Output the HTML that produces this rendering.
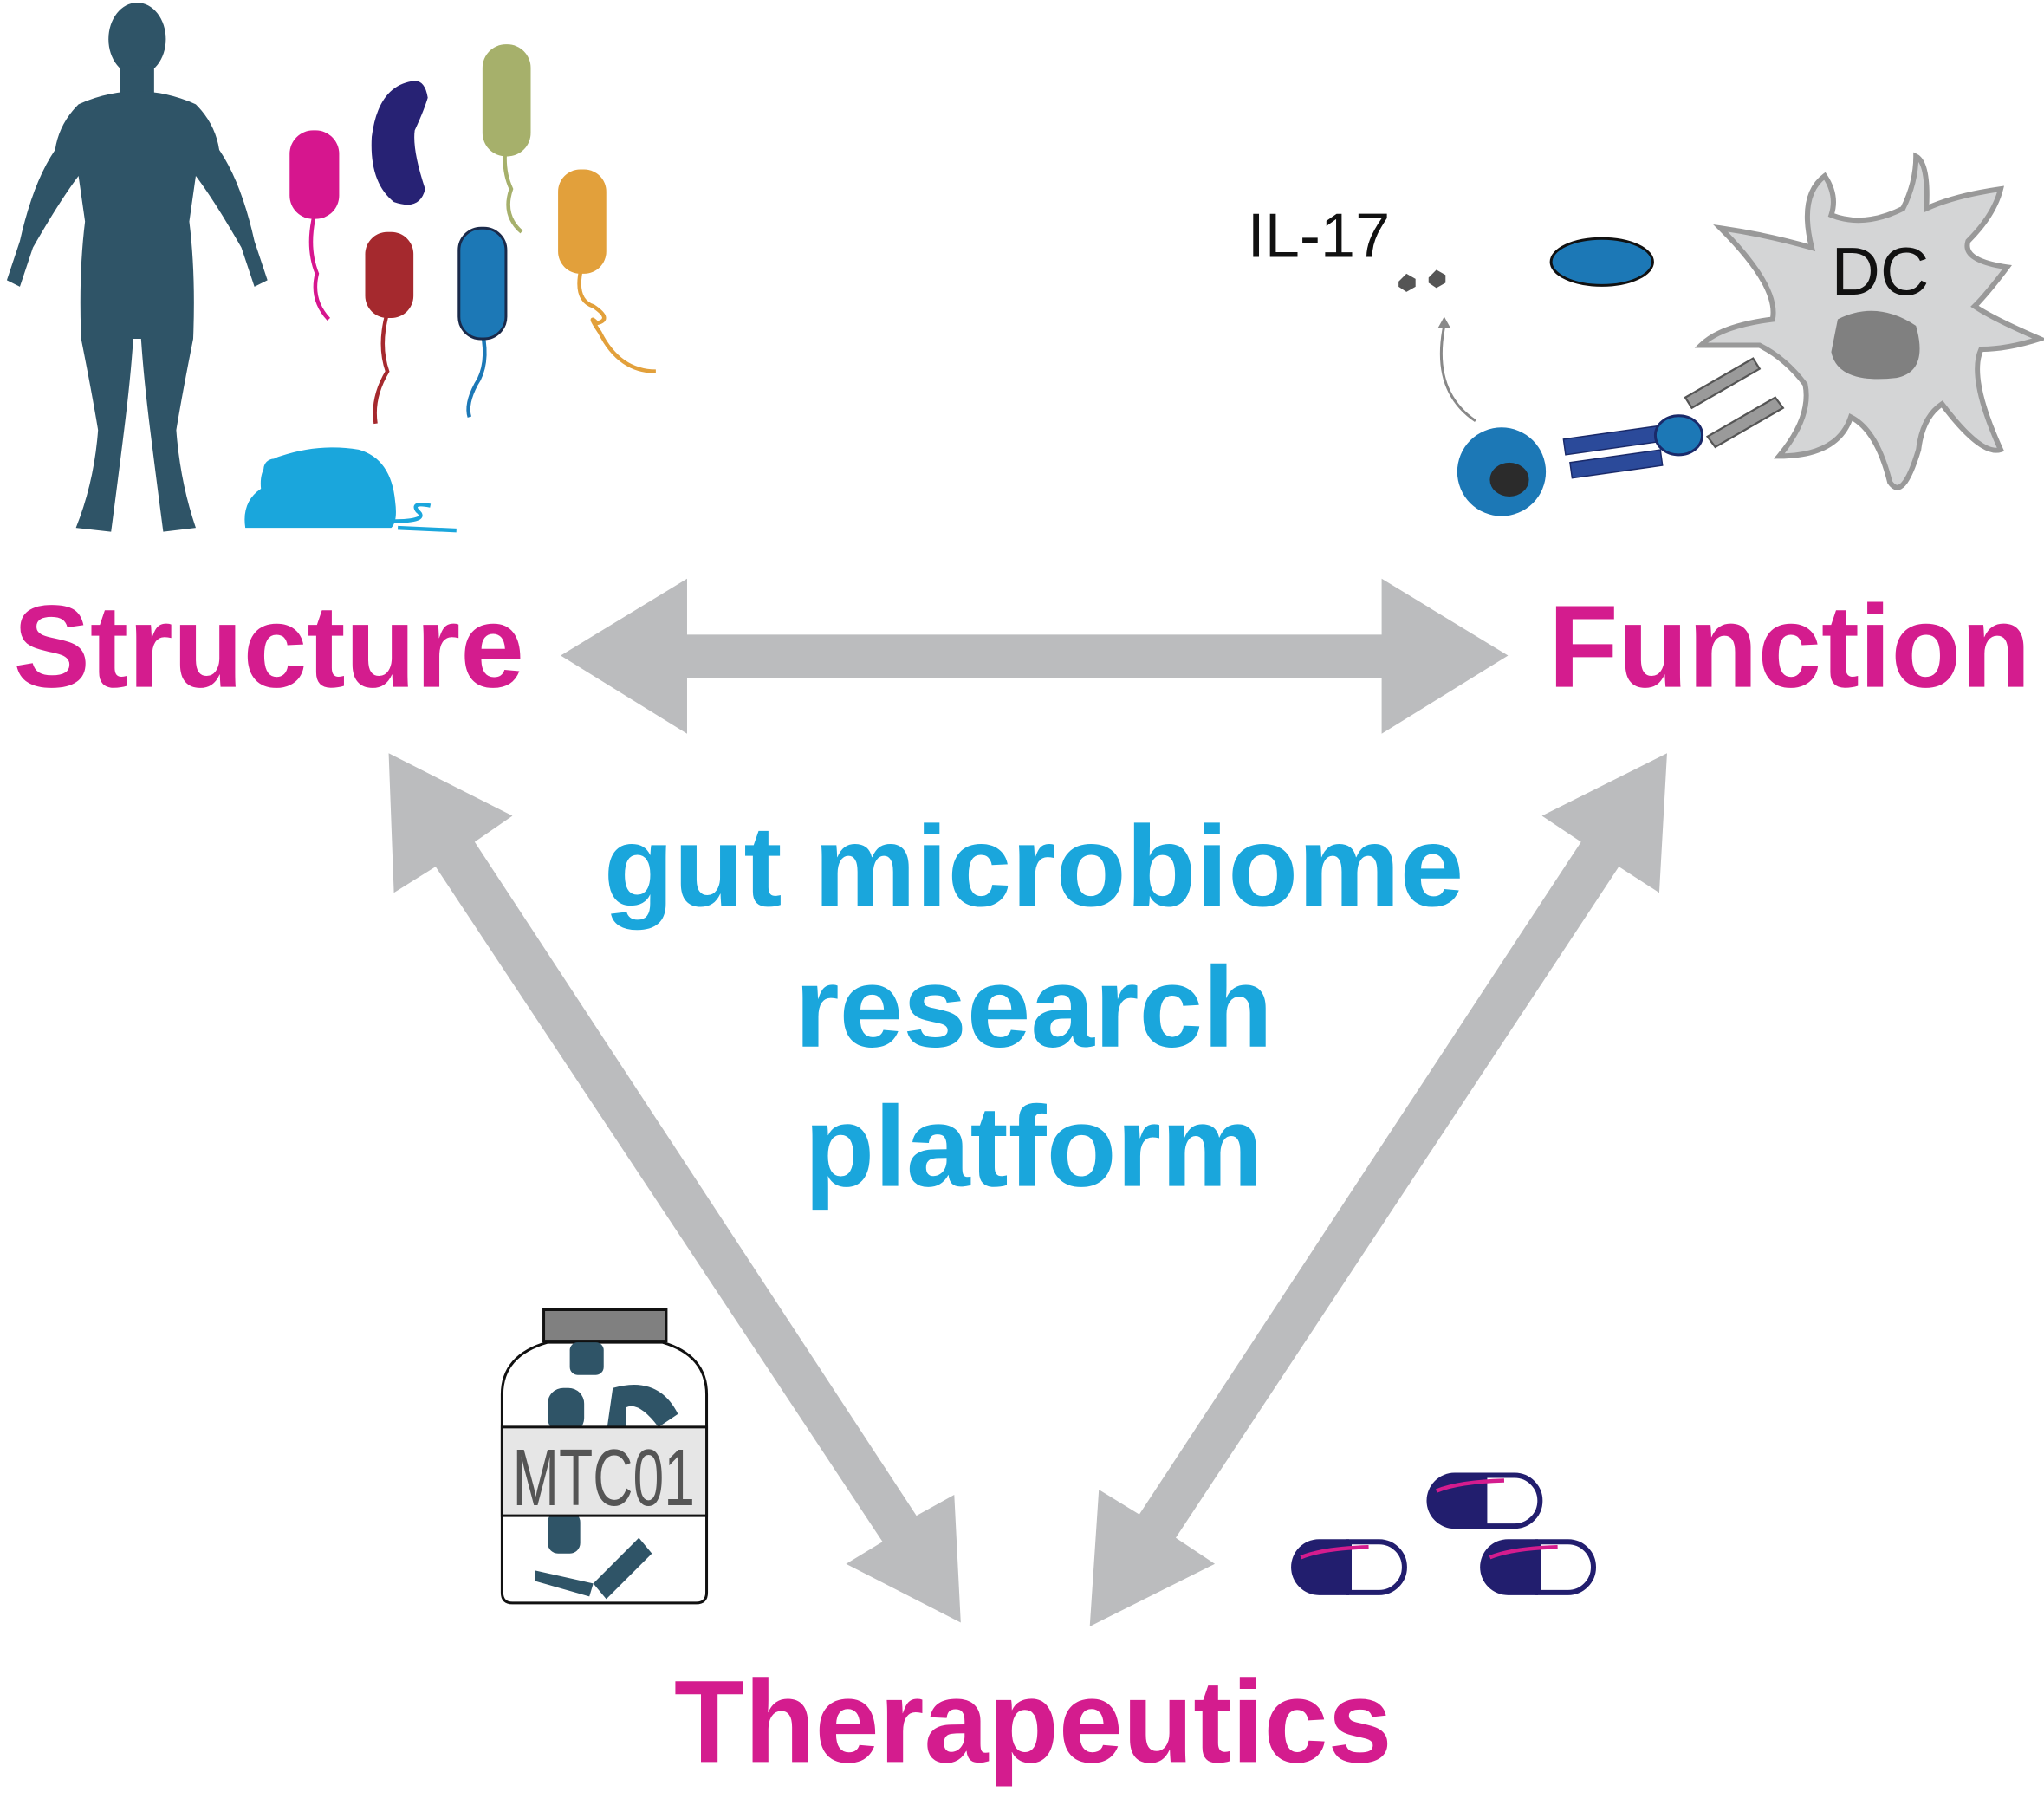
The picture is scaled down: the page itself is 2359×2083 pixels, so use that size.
<!DOCTYPE html>
<html><head><meta charset="utf-8"><style>
html,body{margin:0;padding:0;background:#fff;}
svg{display:block;}
</style></head><body>
<svg width="2359" height="2083" viewBox="0 0 1568 1385" xmlns="http://www.w3.org/2000/svg">
<rect width="1568" height="1385" fill="#fff"/>
<!-- arrows -->
<g fill="#bbbcbe">
<polygon points="430,503 527,444 527,487 1060,487 1060,444 1157,503 1060,563 1060,520 527,520 527,563"/>
<polygon points="298,578 393,626 364,646 703,1163 732,1147 737,1245 649,1200 677,1183 334,665 302,685"/>
<polygon points="1279,578 1273,685 1242,665 902,1180 932,1200 836,1248 843,1143 874,1162 1213,646 1183,626"/>
</g>
<!-- texts -->
<g font-family="Liberation Sans, sans-serif" font-weight="bold" fill="#d41c8e" font-size="90">
<text x="10" y="527" textLength="392" lengthAdjust="spacingAndGlyphs">Structure</text>
<text x="1188" y="527" textLength="370" lengthAdjust="spacingAndGlyphs">Function</text>
<text x="517" y="1352" textLength="551" lengthAdjust="spacingAndGlyphs">Therapeutics</text>
</g>
<g font-family="Liberation Sans, sans-serif" font-weight="bold" fill="#1aa6dc" font-size="88" text-anchor="middle">
<text x="793" y="695">gut microbiome</text>
<text x="793" y="803">research</text>
<text x="793" y="910">platform</text>
</g>
<!-- human silhouette -->
<g fill="#2f5467">
<ellipse cx="105" cy="30" rx="22" ry="28"/>
<rect x="92" y="50" width="26" height="25"/>
<path d="M60,80 Q105,60 150,80 Q165,95 168,115 Q185,140 195,185 L205,215 L195,220 L185,190 Q165,155 150,135 L145,170 Q150,210 148,260 Q140,300 135,330 Q138,370 150,405 L125,408 Q120,370 115,330 Q110,290 108,260 L102,260 Q100,290 95,330 Q90,370 85,408 L58,405 Q72,370 75,330 Q70,300 62,260 Q60,210 65,170 L60,135 Q45,155 25,190 L15,220 L5,215 L15,185 Q25,140 42,115 Q45,95 60,80 Z"/>
</g>
<!-- bacteria -->
<g stroke-width="3" fill="none">
<path d="M241,165 Q235,190 243,210 Q238,230 252,245" stroke="#d6168e"/>
<path d="M297,240 Q290,265 297,285 Q285,305 288,325" stroke="#a5292e"/>
<path d="M388,110 Q385,130 392,145 Q385,165 400,178" stroke="#a6b06b"/>
<path d="M370,255 Q375,280 365,295 Q357,310 360,320" stroke="#1c78b6"/>
<path d="M446,205 Q440,230 455,235 Q470,245 458,248 Q450,240 460,255 Q475,285 503,285" stroke="#e2a03b"/>
</g>
<rect x="222" y="100" width="38" height="68" rx="18" fill="#d6168e"/>
<rect x="280" y="178" width="37" height="66" rx="17" fill="#a5292e"/>
<rect x="370" y="34" width="37" height="86" rx="18" fill="#a6b06b"/>
<rect x="352" y="175" width="36" height="85" rx="17" fill="#1c78b6" stroke="#1a2a4a" stroke-width="2"/>
<rect x="428" y="130" width="37" height="80" rx="17" fill="#e2a03b"/>
<path d="M318,62 Q290,65 285,105 Q283,140 302,155 Q322,162 326,145 Q316,115 318,100 Q325,85 328,75 Q326,62 318,62 Z" fill="#272274"/>
<!-- mouse -->
<path d="M188,405 Q185,385 200,375 Q198,355 215,350 Q245,340 275,345 Q300,352 303,385 Q305,400 300,405 Z" fill="#1aa6dc"/>
<circle cx="210" cy="360" r="8" fill="#1aa6dc"/>
<path d="M300,400 Q330,400 320,392 Q315,385 330,388 M305,405 L350,407" stroke="#1aa6dc" stroke-width="3" fill="none"/>
<!-- IL-17 / DC -->
<text x="957" y="197" font-family="Liberation Sans, sans-serif" font-size="48" fill="#111">IL-17</text>
<polygon points="1073,216 1079,210 1086,214 1086,220 1079,224 1073,220" fill="#555"/>
<polygon points="1096,213 1102,207 1109,211 1109,217 1102,221 1096,217" fill="#555"/>
<path d="M1132,323 Q1098,300 1108,250" stroke="#888" stroke-width="2" fill="none"/>
<polygon points="1103,252 1108,243 1113,252" fill="#888"/>
<ellipse cx="1229" cy="201" rx="39" ry="18" fill="#1c78b6" stroke="#111" stroke-width="2"/>
<path d="M1390,190 Q1380,150 1400,135 Q1410,150 1405,165 Q1430,175 1460,160 Q1470,140 1470,120 Q1480,125 1478,160 Q1500,150 1535,145 Q1530,165 1510,185 Q1505,200 1540,205 Q1525,225 1515,235 Q1530,245 1565,260 Q1540,268 1520,268 Q1510,290 1535,345 Q1520,350 1490,310 Q1475,320 1472,345 Q1460,385 1450,370 Q1440,330 1420,320 Q1410,350 1365,350 Q1390,320 1385,295 Q1370,275 1350,265 L1305,265 Q1320,250 1360,245 Q1365,220 1320,175 Q1355,180 1390,190 Z" fill="#d4d5d6" stroke="#999" stroke-width="4"/>
<text x="1405" y="226" font-family="Liberation Sans, sans-serif" font-size="52" fill="#111">DC</text>
<path d="M1410,245 Q1440,230 1470,250 Q1480,285 1455,290 Q1410,295 1405,270 Z" fill="#808080"/>
<g fill="#9a9a9a" stroke="#555" stroke-width="1.5">
<polygon points="1293,305 1345,275 1350,283 1298,313"/>
<polygon points="1310,335 1362,305 1368,313 1316,343"/>
</g>
<circle cx="1152" cy="362" r="34" fill="#1c78b6"/>
<ellipse cx="1158" cy="368" rx="15" ry="13" fill="#2b2b2b"/>
<g fill="#2b4a9a" stroke="#1a2a6a" stroke-width="1">
<rect x="1200" y="332" width="72" height="12" transform="rotate(-8 1236 338)"/>
<rect x="1205" y="350" width="70" height="12" transform="rotate(-8 1240 356)"/>
</g>
<ellipse cx="1288" cy="334" rx="18" ry="15" fill="#1c78b6" stroke="#1a2a6a" stroke-width="2"/>
<!-- jar -->
<rect x="417" y="1005" width="94" height="24" fill="#808080" stroke="#111" stroke-width="2"/>
<path d="M420,1030 L508,1030 Q542,1040 542,1070 L542,1222 Q542,1230 534,1230 L393,1230 Q385,1230 385,1222 L385,1070 Q385,1040 420,1030 Z" fill="#fff" stroke="#111" stroke-width="2"/>
<g fill="#2f5467">
<rect x="437" y="1030" width="26" height="25" rx="6"/>
<rect x="420" y="1065" width="28" height="35" rx="12"/>
<path d="M470,1065 Q505,1055 520,1085 L505,1095 Q490,1075 480,1080 L480,1100 L465,1100 Z"/>
<rect x="420" y="1160" width="25" height="32" rx="8"/>
<path d="M410,1205 L455,1215 L452,1225 L410,1213 Z"/>
<path d="M455,1215 L490,1180 L500,1192 L465,1227 Z"/>
</g>
<rect x="385" y="1095" width="157" height="68" fill="#e6e6e6" stroke="#111" stroke-width="2"/>
<text x="463" y="1155" font-family="Liberation Sans, sans-serif" font-size="62" fill="#555" text-anchor="middle" textLength="140" lengthAdjust="spacingAndGlyphs">MTC01</text>
<!-- pills -->
<g>
<g transform="translate(990,1181)">
<path d="M22,0 L45,0 L45,43 L22,43 A21.5,21.5 0 0 1 22,0 Z" fill="#221e6e"/>
<path d="M45,2 L68,2 A19.5,19.5 0 0 1 68,41 L45,41 Z" fill="#fff" stroke="#221e6e" stroke-width="4"/>
<path d="M8,14 Q25,7 60,6" stroke="#d41c8e" stroke-width="3" fill="none"/>
</g>
<g transform="translate(1094,1130)">
<path d="M22,0 L45,0 L45,43 L22,43 A21.5,21.5 0 0 1 22,0 Z" fill="#221e6e"/>
<path d="M45,2 L68,2 A19.5,19.5 0 0 1 68,41 L45,41 Z" fill="#fff" stroke="#221e6e" stroke-width="4"/>
<path d="M8,14 Q25,7 60,6" stroke="#d41c8e" stroke-width="3" fill="none"/>
</g>
<g transform="translate(1135,1181)">
<path d="M22,0 L45,0 L45,43 L22,43 A21.5,21.5 0 0 1 22,0 Z" fill="#221e6e"/>
<path d="M45,2 L68,2 A19.5,19.5 0 0 1 68,41 L45,41 Z" fill="#fff" stroke="#221e6e" stroke-width="4"/>
<path d="M8,14 Q25,7 60,6" stroke="#d41c8e" stroke-width="3" fill="none"/>
</g>
</g>
</svg>
</body></html>
